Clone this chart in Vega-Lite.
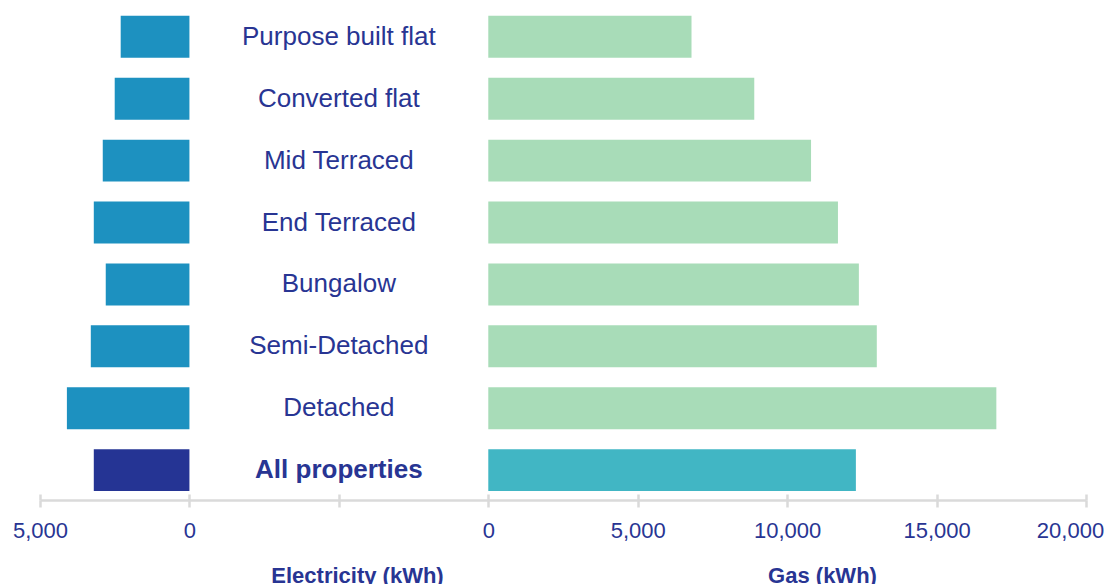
{
  "$schema": "https://vega.github.io/schema/vega-lite/v6.json",
  "width": 1046,
  "height": 500,
  "autosize": {"type": "none"},
  "padding": {"left": 40, "top": 0, "right": 22, "bottom": 84},
  "background": "white",
  "config": {"view": {"stroke": null}, "font": "Liberation Sans"},
  "data": {
    "values": [
      {"type": "Purpose built flat", "electricity": 2300, "gas": 6800},
      {"type": "Converted flat", "electricity": 2500, "gas": 8900},
      {"type": "Mid Terraced", "electricity": 2900, "gas": 10800},
      {"type": "End Terraced", "electricity": 3200, "gas": 11700},
      {"type": "Bungalow", "electricity": 2800, "gas": 12400},
      {"type": "Semi-Detached", "electricity": 3300, "gas": 13000},
      {"type": "Detached", "electricity": 4100, "gas": 17000},
      {"type": "All properties", "electricity": 3200, "gas": 12300}
    ]
  },
  "encoding": {
    "y": {
      "field": "type",
      "type": "nominal",
      "sort": null,
      "axis": null,
      "scale": {"paddingInner": 0.3226, "paddingOuter": 0.2, "align": 0.64}
    }
  },
  "layer": [
    {
      "mark": {"type": "bar"},
      "encoding": {
        "x": {
          "field": "electricity",
          "type": "quantitative",
          "scale": {"domain": [-30000, 5000], "reverse": true, "nice": false, "zero": false},
          "axis": {
            "orient": "bottom",
            "title": "Electricity (kWh)",
            "domain": false,
            "ticks": false,
            "labels": false,
            "grid": false,
            "titleX": 317,
            "titleY": 82,
            "titleAlign": "center",
            "titleAnchor": null,
            "titleBaseline": "alphabetic",
            "titleFontSize": 22,
            "titleFontWeight": "bold",
            "titleColor": "#283593"
          }
        },
        "color": {
          "condition": {"test": "datum.type === 'All properties'", "value": "#253494"},
          "value": "#1d91c0"
        }
      }
    },
    {
      "mark": {"type": "bar"},
      "encoding": {
        "x": {
          "field": "gas",
          "type": "quantitative",
          "scale": {"domain": [-15000, 20000], "nice": false, "zero": false},
          "axis": {
            "orient": "bottom",
            "title": "Gas (kWh)",
            "values": [-15000, -10000, -5000, 0, 5000, 10000, 15000, 20000],
            "labelExpr": "datum.value == -15000 ? '5,000' : datum.value == -10000 ? '0' : datum.value == -5000 ? '' : format(datum.value, ',')",
            "labelFontSize": 22,
            "labelColor": "#283593",
            "labelPadding": 13,
            "labelFlush": false,
            "labelOverlap": false,
            "labelOffset": {"condition": {"test": "datum.value == 20000", "value": -16}, "value": 0},
            "domainColor": "#dadada",
            "domainWidth": 2.5,
            "tickColor": "#dadada",
            "tickWidth": 2.5,
            "tickSize": 7,
            "grid": false,
            "titleX": 782,
            "titleY": 82,
            "titleAlign": "center",
            "titleAnchor": null,
            "titleBaseline": "alphabetic",
            "titleFontSize": 22,
            "titleFontWeight": "bold",
            "titleColor": "#283593"
          }
        },
        "color": {
          "condition": {"test": "datum.type === 'All properties'", "value": "#41b6c4"},
          "value": "#a8dcb8"
        }
      }
    },
    {
      "transform": [{"filter": "datum.type !== 'All properties'"}],
      "mark": {"type": "text", "fontSize": 26, "color": "#283593", "align": "center", "baseline": "middle"},
      "encoding": {
        "x": {
          "datum": -5000,
          "type": "quantitative",
          "scale": {"domain": [-15000, 20000], "nice": false, "zero": false},
          "axis": {
            "orient": "bottom",
            "values": [-15000, -10000, -5000, 0, 5000, 10000, 15000, 20000],
            "labels": false,
            "domain": false,
            "title": null,
            "grid": false,
            "tickSize": -6,
            "tickColor": "#dadada",
            "tickWidth": 2.5
          }
        },
        "text": {"field": "type"}
      }
    },
    {
      "transform": [{"filter": "datum.type === 'All properties'"}],
      "mark": {"type": "text", "fontSize": 26, "fontWeight": "bold", "color": "#283593", "align": "center", "baseline": "middle"},
      "encoding": {
        "x": {
          "datum": -5000,
          "type": "quantitative",
          "scale": {"domain": [-15000, 20000], "nice": false, "zero": false},
          "axis": null
        },
        "text": {"field": "type"}
      }
    }
  ],
  "resolve": {"scale": {"x": "independent"}, "axis": {"x": "independent"}}
}
